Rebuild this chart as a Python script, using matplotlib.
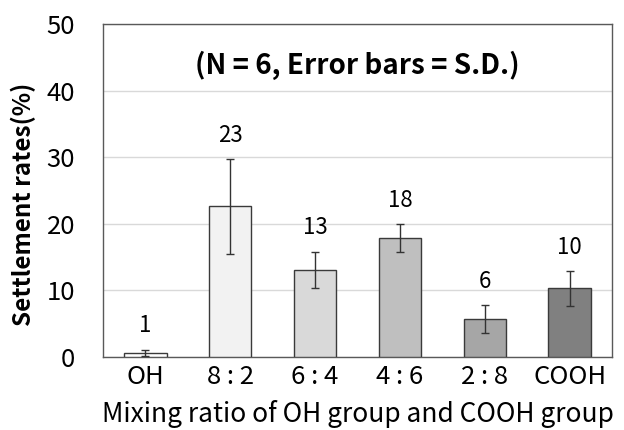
import matplotlib
matplotlib.use("Agg")
import matplotlib.pyplot as plt

categories = ["OH", "8 : 2", "6 : 4", "4 : 6", "2 : 8", "COOH"]
values = [0.6, 22.6, 13.1, 17.8, 5.7, 10.3]
errors = [0.5, 7.1, 2.7, 2.1, 2.1, 2.6]
labels = ["1", "23", "13", "18", "6", "10"]
colors = ["#ffffff", "#f2f2f2", "#d9d9d9", "#bfbfbf", "#a6a6a6", "#808080"]

plt.rcParams['font.family'] = ['Noto Sans CJK JP', 'DejaVu Sans']

W, H = 624, 430
fig = plt.figure(figsize=(W / 100, H / 100), dpi=100)
ax = fig.add_axes([103 / W, 1 - 357 / H, 509 / W, 333 / H])

x = list(range(len(categories)))
ax.bar(x, values, width=0.5, color=colors, edgecolor="#3a3a3a", linewidth=1.0, zorder=3)
ax.errorbar(x, values, yerr=errors, fmt="none", ecolor="#333333", elinewidth=1.0,
            capsize=3, capthick=1.0, zorder=4)
for xi, v, e, lab in zip(x, values, errors, labels):
    ax.annotate(lab, (xi, v + e), xytext=(0, 12.5), textcoords="offset points",
                ha="center", va="baseline", fontsize=16)

ax.set_xlim(-0.5, 5.5)
ax.set_ylim(0, 50)
ax.set_yticks([0, 10, 20, 30, 40, 50])
ax.set_xticks(x)
ax.set_xticklabels(categories, fontsize=18.5)
ax.tick_params(axis="y", labelsize=18.5, length=0, pad=20)
ax.tick_params(axis="x", length=0, pad=5)
ax.grid(axis="y", color="#d9d9d9", linewidth=1.0, zorder=0)
for s in ax.spines.values():
    s.set_color("#595959")
    s.set_linewidth(1.0)

fig.text(23 / W, 1 - 204 / H, "Settlement rates(%)", rotation=90, fontsize=17.5,
         fontweight="bold", ha="center", va="center")
fig.text(357.5 / W, 1 - 414 / H, "Mixing ratio of OH group and COOH group",
         fontsize=19, ha="center", va="center")
ax.text(0.5, 0.877, "(N = 6, Error bars = S.D.)", transform=ax.transAxes,
        ha="center", va="center", fontsize=20, fontweight="bold")

fig.savefig("out.png", dpi=100)
